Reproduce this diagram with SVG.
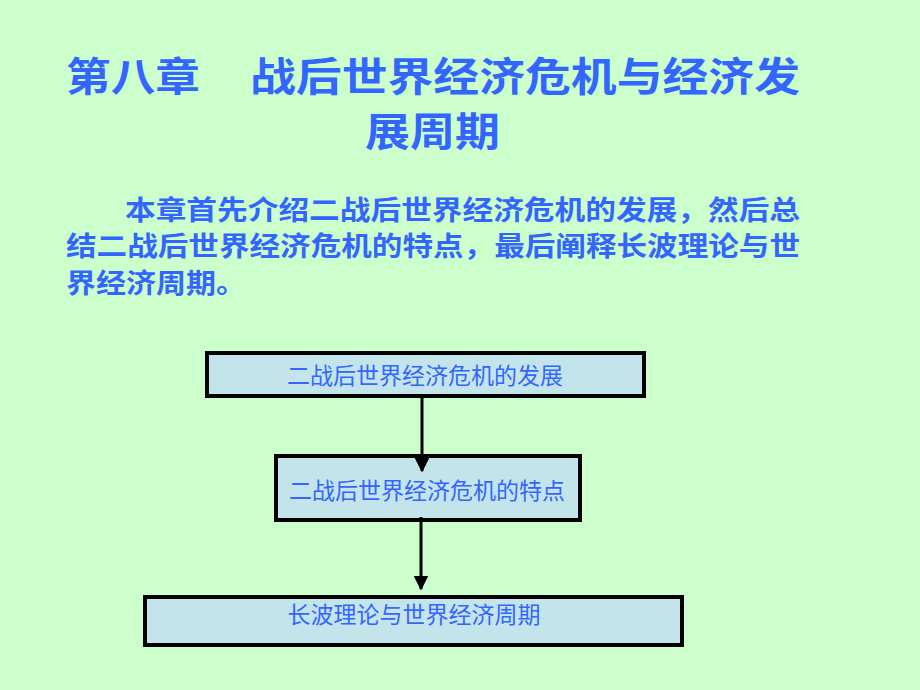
<svg xmlns="http://www.w3.org/2000/svg" width="920" height="690" viewBox="0 0 920 690">
<style>
.t{font-family:"Noto Sans CJK SC","Liberation Sans",sans-serif;fill:#3366FF}
.title{font-size:40px;font-weight:bold}
.body{font-size:27px;font-weight:bold}
.lbl{font-size:23px;text-anchor:middle}
.box{fill:#C4E4EC;stroke:#000;stroke-width:4}
.con{stroke:#000;stroke-width:3;fill:none;marker-end:url(#ah)}
</style>
<defs>
<marker id="ah" markerWidth="5" markerHeight="5" refX="4.5" refY="2.5" orient="auto" markerUnits="strokeWidth">
<path d="M0,0 L5,2.5 L0,5 Z" fill="#000"/>
</marker>
</defs>
<rect width="920" height="690" fill="#CCFFCC"/>
<g id="title">
<text class="t title" y="91"><tspan x="66" textLength="134" lengthAdjust="spacingAndGlyphs">第八章</tspan><tspan x="250" textLength="550" lengthAdjust="spacingAndGlyphs">战后世界经济危机与经济发</tspan></text>
<text class="t title" x="365" y="146" textLength="135" lengthAdjust="spacingAndGlyphs">展周期</text>
</g>
<g id="intro">
<text class="t body" x="125" y="220" textLength="675" lengthAdjust="spacingAndGlyphs">本章首先介绍二战后世界经济危机的发展，然后总</text>
<text class="t body" x="66" y="256" textLength="734" lengthAdjust="spacingAndGlyphs">结二战后世界经济危机的特点，最后阐释长波理论与世</text>
<text class="t body" x="66" y="293" textLength="180" lengthAdjust="spacingAndGlyphs">界经济周期。</text>
</g>
<g id="n1">
<rect class="box" x="207" y="353" width="437" height="43"/>
<text class="t lbl" x="425" y="384">二战后世界经济危机的发展</text>
</g>
<g id="n2">
<rect class="box" x="276" y="456" width="304" height="64"/>
<text class="t lbl" x="427" y="499">二战后世界经济危机的特点</text>
</g>
<g id="n3">
<rect class="box" x="145" y="597" width="537" height="48"/>
<text class="t lbl" x="414" y="623">长波理论与世界经济周期</text>
</g>
<g id="connectors">
<line class="con" x1="422" y1="397" x2="422" y2="471"/>
<line class="con" x1="421" y1="517" x2="421" y2="589"/>
</g>
</svg>
